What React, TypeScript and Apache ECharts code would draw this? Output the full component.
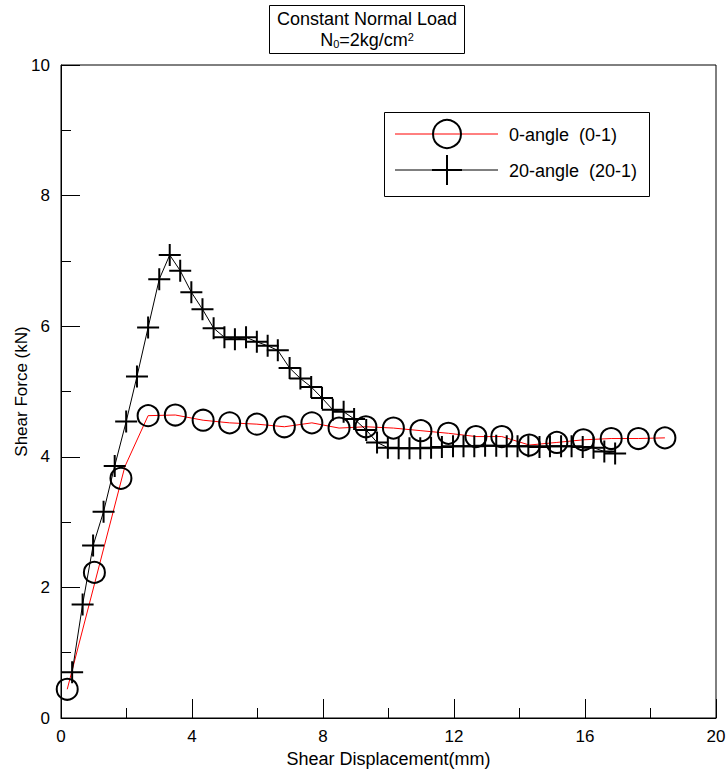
import React, { useEffect, useRef } from "react";
import * as echarts from "echarts";

// 0-angle (0-1): circle markers
const circleX = [0.19, 1.02, 1.83, 2.66, 3.49, 4.34, 5.15, 5.98, 6.82, 7.66, 8.49, 9.31, 10.15, 10.99, 11.83, 12.67, 13.46, 14.30, 15.14, 15.95, 16.80, 17.63, 18.44];
const circleY = [0.44, 2.23, 3.67, 4.63, 4.64, 4.56, 4.52, 4.50, 4.46, 4.52, 4.44, 4.46, 4.44, 4.40, 4.36, 4.31, 4.31, 4.18, 4.22, 4.26, 4.28, 4.28, 4.29];
// 0-angle red trace
const redX = [0.19, 1.95, 2.66, 3.49, 4.34, 5.15, 5.98, 6.82, 7.66, 8.49, 9.31, 10.15, 10.99, 11.83, 12.67, 13.46, 14.30, 15.14, 15.95, 16.80, 17.63, 18.44];
const redY = [0.44, 3.85, 4.63, 4.64, 4.56, 4.52, 4.50, 4.46, 4.52, 4.44, 4.46, 4.44, 4.40, 4.36, 4.31, 4.31, 4.18, 4.22, 4.26, 4.28, 4.28, 4.29];
// 20-angle (20-1): cross markers
const crossX = [0.34, 0.66, 0.98, 1.30, 1.64, 1.99, 2.32, 2.66, 3.00, 3.32, 3.64, 3.98, 4.32, 4.66, 4.99, 5.31, 5.65, 5.98, 6.31, 6.62, 6.98, 7.31, 7.64, 7.97, 8.30, 8.63, 8.95, 9.32, 9.65, 9.98, 10.31, 10.64, 10.97, 11.30, 11.63, 11.97, 12.29, 12.62, 12.95, 13.29, 13.61, 13.94, 14.27, 14.61, 14.93, 15.27, 15.59, 15.93, 16.26, 16.59, 16.92];
const crossY = [0.70, 1.74, 2.64, 3.16, 3.86, 4.54, 5.23, 5.98, 6.72, 7.09, 6.85, 6.52, 6.26, 5.97, 5.83, 5.80, 5.83, 5.76, 5.70, 5.63, 5.36, 5.20, 5.07, 4.90, 4.72, 4.69, 4.58, 4.41, 4.22, 4.14, 4.13, 4.13, 4.13, 4.14, 4.15, 4.16, 4.16, 4.16, 4.17, 4.17, 4.16, 4.16, 4.16, 4.15, 4.16, 4.16, 4.16, 4.15, 4.14, 4.08, 4.05];

const legendNames = ["0-angle  (0-1)", "20-angle  (20-1)"];
const titleLine1 = "Constant Normal Load";

const FONT = "'Liberation Sans', Arial, sans-serif";
const CROSS = "path://M11,0 L11,22 M0,11 L22,11";

function zip(xs: number[], ys: number[]) {
  return xs.map((x, i) => [x, ys[i]]);
}

export default function App() {
  const ref = useRef<HTMLDivElement>(null);
  useEffect(() => {
    if (!ref.current) return;
    const chart = echarts.init(ref.current, null, { renderer: "svg" });
    const axisCommon = {
      type: "value" as const,
      axisLine: { show: true, lineStyle: { color: "#000", width: 1 } },
      axisTick: { show: true, inside: true, length: 19, lineStyle: { color: "#000", width: 1 } },
      minorTick: { show: true, splitNumber: 2, length: 10, lineStyle: { color: "#000", width: 1 } },
      splitLine: { show: false },
      minorSplitLine: { show: false },
      axisLabel: { color: "#000", fontSize: 17, fontFamily: FONT },
      nameLocation: "middle" as const,
      nameMoveOverlap: false,
      nameTextStyle: { color: "#000", fontSize: 17, fontFamily: FONT },
    };
    chart.setOption({
      animation: false,
      backgroundColor: "#fff",
      grid: { left: 61, right: 11, top: 65, bottom: 57, outerBoundsMode: "none", containLabel: false, show: true, borderColor: "#000", borderWidth: 1, backgroundColor: "transparent" },
      xAxis: { ...axisCommon, min: 0, max: 20, interval: 4, name: "Shear Displacement(mm)", nameGap: 32, nameTextStyle: { color: "#000", fontSize: 18, fontFamily: FONT }, axisLabel: { ...axisCommon.axisLabel, margin: 10 } },
      yAxis: { ...axisCommon, min: 0, max: 10, interval: 2, name: "Shear Force (kN)", nameGap: 31, axisLabel: { ...axisCommon.axisLabel, margin: 11 } },
      series: [
        {
          type: "line",
          data: zip(redX, redY),
          showSymbol: false,
          lineStyle: { color: "#ff0000", width: 1 },
          itemStyle: { color: "#ff0000" },
          z: 2,
        },
        {
          type: "line",
          data: zip(crossX, crossY),
          symbol: CROSS,
          symbolSize: 22,
          showSymbol: true,
          showAllSymbol: true,
          lineStyle: { color: "#000", width: 1 },
          itemStyle: { color: "transparent", borderColor: "#000", borderWidth: 2 },
          z: 3,
        },
        {
          type: "scatter",
          data: zip(circleX, circleY),
          symbol: "circle",
          symbolSize: 21,
          itemStyle: { color: "transparent", borderColor: "#000", borderWidth: 2, opacity: 1 },
          z: 4,
        },
      ],
      graphic: [
        { type: "rect", shape: { x: 269.5, y: 5.5, width: 195, height: 48 }, style: { fill: "#fff", stroke: "#000", lineWidth: 1 } },
        { type: "text", x: 367, y: 19, style: { text: titleLine1, align: "center", verticalAlign: "middle", fontSize: 18, fontFamily: FONT, fill: "#000" } },
        {
          type: "text", x: 367, y: 40,
          style: {
            text: "N{sub|0}=2kg/cm{sup|2}", align: "center", verticalAlign: "middle", fontSize: 18, fontFamily: FONT, fill: "#000", lineHeight: 18,
            rich: {
              sub: { fontSize: 11, fontFamily: FONT, fill: "#000", verticalAlign: "bottom", lineHeight: 18 },
              sup: { fontSize: 11, fontFamily: FONT, fill: "#000", verticalAlign: "top", lineHeight: 18 },
            },
          },
        },
        { type: "rect", shape: { x: 384.5, y: 112.5, width: 265, height: 84 }, style: { fill: "#fff", stroke: "#000", lineWidth: 1 } },
        { type: "line", shape: { x1: 395, y1: 134, x2: 498, y2: 134 }, style: { stroke: "#ff0000", lineWidth: 1 } },
        { type: "circle", shape: { cx: 447, cy: 134, r: 14 }, style: { fill: "none", stroke: "#000", lineWidth: 2 } },
        { type: "text", x: 509, y: 135, style: { text: legendNames[0], verticalAlign: "middle", fontSize: 18, fontFamily: FONT, fill: "#000" } },
        { type: "line", shape: { x1: 395, y1: 170, x2: 498, y2: 170 }, style: { stroke: "#000", lineWidth: 1 } },
        { type: "line", shape: { x1: 447, y1: 155, x2: 447, y2: 185 }, style: { stroke: "#000", lineWidth: 2 } },
        { type: "line", shape: { x1: 432, y1: 170, x2: 462, y2: 170 }, style: { stroke: "#000", lineWidth: 2 } },
        { type: "text", x: 509, y: 171, style: { text: legendNames[1], verticalAlign: "middle", fontSize: 18, fontFamily: FONT, fill: "#000" } },
      ],
    });
    return () => chart.dispose();
  }, []);
  return <div ref={ref} style={{ width: 727, height: 775, position: "absolute", left: 0, top: 0 }} />;
}
